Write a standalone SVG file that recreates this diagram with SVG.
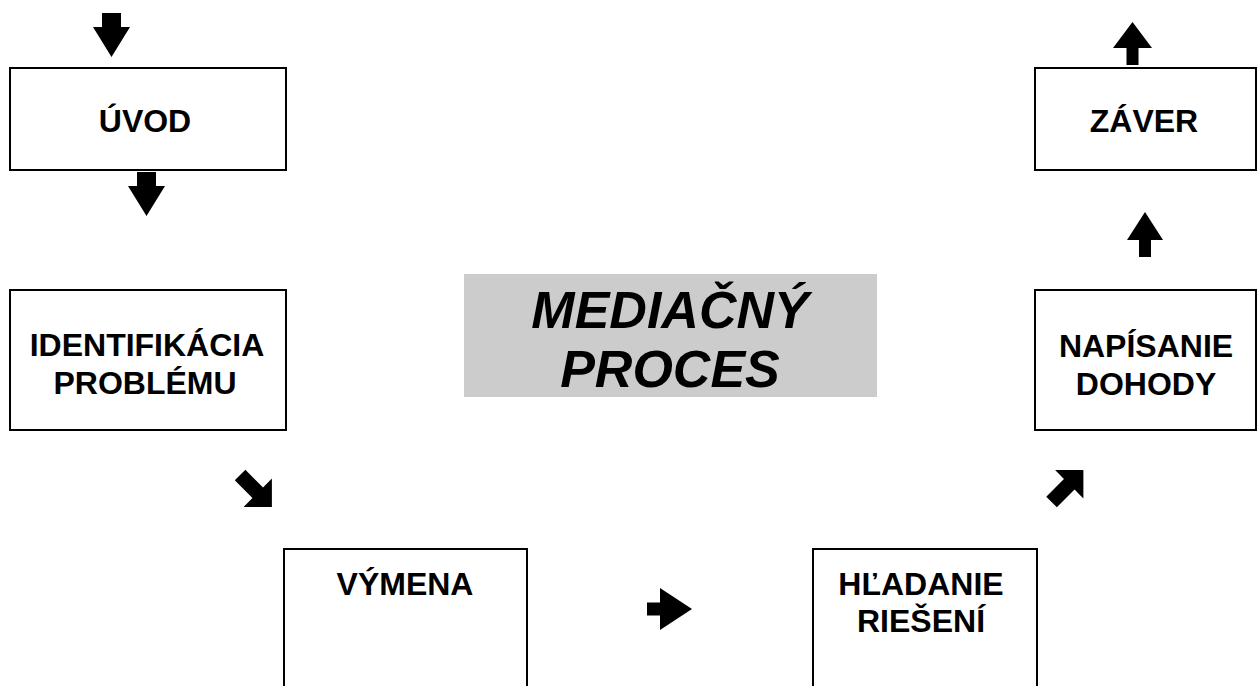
<svg xmlns="http://www.w3.org/2000/svg" width="1258" height="686" viewBox="0 0 1258 686">
<style>
.box{fill:#fff;stroke:#000;stroke-width:2}
.t{font-family:"Liberation Sans",Arial,sans-serif;font-weight:bold;font-size:32px;fill:#000;text-anchor:middle}
.title{font-family:"Liberation Sans",Arial,sans-serif;font-weight:bold;font-style:italic;font-size:52px;fill:#000;text-anchor:middle}
.arr{fill:#000}
</style>
<rect width="1258" height="686" fill="#fff"/>
<g id="connectors">
<path class="arr" d="M102,13 H121 V27 H130 L111.5,57 L93,27 H102 Z"/>
<path class="arr" d="M137,172 H156 V186 H165 L146.5,216 L128,186 H137 Z"/>
<path class="arr" transform="translate(253.5,488.5) rotate(45)" d="M-19,-7.5 H6 V-20 L26,0 L6,20 V7.5 H-19 Z"/>
<path class="arr" d="M647,602.5 H660 V588 L692,609 L660,630 V615.5 H647 Z"/>
<path class="arr" transform="translate(1065,488.5) rotate(-45)" d="M-19,-7.5 H6 V-20 L26,0 L6,20 V7.5 H-19 Z"/>
<path class="arr" d="M1139,257 V240 H1127 L1145,212 L1163,240 H1151 V257 Z"/>
<path class="arr" d="M1126.5,65 V48 H1113 L1132.5,22 L1152,48 H1138.5 V65 Z"/>
</g>
<g id="uvod">
<rect class="box" x="10" y="68" width="276" height="102"/>
<text class="t" x="145" y="132">ÚVOD</text>
</g>
<g id="identifikacia">
<rect class="box" x="10" y="290" width="276" height="140"/>
<text class="t" x="147" y="356">IDENTIFIKÁCIA</text>
<text class="t" x="145" y="394">PROBLÉMU</text>
</g>
<g id="vymena">
<rect class="box" x="284" y="549" width="243" height="200"/>
<text class="t" x="405" y="595">VÝMENA</text>
</g>
<g id="hladanie">
<rect class="box" x="813" y="549" width="224" height="200"/>
<text class="t" x="921" y="595">HĽADANIE</text>
<text class="t" x="921" y="632">RIEŠENÍ</text>
</g>
<g id="zaver">
<rect class="box" x="1035" y="68" width="221" height="102"/>
<text class="t" x="1144" y="132">ZÁVER</text>
</g>
<g id="napisanie">
<rect class="box" x="1035" y="290" width="221" height="140"/>
<text class="t" x="1146" y="357">NAPÍSANIE</text>
<text class="t" x="1146" y="395">DOHODY</text>
</g>
<g id="mediacny-proces">
<rect x="464" y="274" width="413" height="123" fill="#cccccc"/>
<text class="title" x="670" y="328">MEDIAČNÝ</text>
<text class="title" x="670" y="387">PROCES</text>
</g>
</svg>
